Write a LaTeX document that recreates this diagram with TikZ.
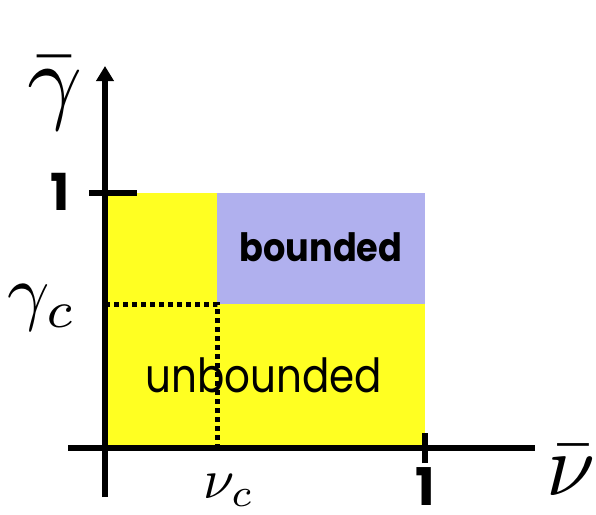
\documentclass[tikz,border=0pt]{standalone}
\usepackage{fontspec}
\setmainfont{Poppins}
\usetikzlibrary{arrows.meta,positioning}
\definecolor{sun}{HTML}{FFFF22}
\definecolor{lavender}{HTML}{B0B0EE}
\newcommand{\sized}[2]{\fontsize{#1}{#1}\selectfont#2}
\newcommand{\bigmath}[2]{\scalebox{#1}{$#2$}}

\begin{document}
\begin{tikzpicture}[
  x=1pt,y=-1pt,
  every node/.style={inner sep=0pt},
  axis/.style={draw=black,line width=5.2pt},
  guide/.style={draw=black,line width=5pt,dash pattern=on 5pt off 4pt},
  tip/.style={-{Triangle[length=15pt,width=17pt]}}
]
\useasboundingbox (0,0) rectangle (596,514);
\coordinate (o) at (105,448);
\coordinate (xl) at (68,448);
\coordinate (xr) at (535,448);
\coordinate (yb) at (105,497);
\coordinate (yt) at (105,66);
\coordinate (one x) at (425,448);
\coordinate (one y) at (105,193);
\coordinate (nu c) at (217,448);
\coordinate (gamma c) at (105,304);
\coordinate (crit) at (217,304);
\coordinate (corner) at (425,193);
\fill[sun] (o) rectangle (corner);
\fill[lavender] (crit) rectangle (corner);
\draw[guide] (gamma c) -- (crit) -- (nu c);
\draw[axis] (xl) -- (xr);
\draw[axis,tip] (yb) -- (yt);
\draw[axis] ([xshift=-16pt]one y) -- ([xshift=32pt]one y);
\draw[axis] ([yshift=-15pt]one x) -- ([yshift=15pt]one x);
\node (ybar) [anchor=base] at (55,111) {\bigmath{9.6}{\bar{\gamma}}};
\node (ylab1) at (60,192) {\sized{51}{\textbf{1}}};
\node (yc) [anchor=base] at (42,316) {\bigmath{7.4}{\gamma_c}};
\node (xc) [anchor=base] at (229,498) {\bigmath{5.6}{\nu_c}};
\node (xlab1) at (425,487) {\sized{52}{\textbf{1}}};
\node (xbar) [anchor=base] at (571,495) {\bigmath{8.8}{\bar{\nu}}};
\node (bnd) at (321,247) {\scalebox{0.9}[1]{\sized{39}{\textbf{bounded}}}};
\node (unbnd) at (264,375) {\scalebox{0.86}[1]{\sized{47}{unbounded}}};
\end{tikzpicture}
\end{document}
